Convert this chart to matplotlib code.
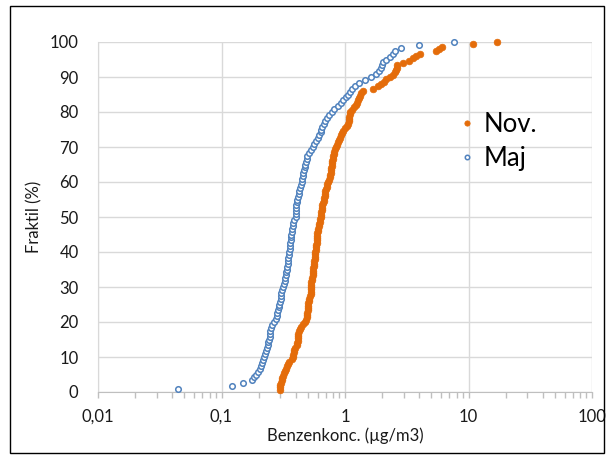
import numpy as np
import matplotlib
matplotlib.use("Agg")
import matplotlib.pyplot as plt
from matplotlib.ticker import LogLocator, FixedLocator, NullFormatter
from matplotlib.patches import Rectangle

plt.rcParams["font.family"] = ["Lato", "DejaVu Sans"]

# sorted benzene concentrations (ug/m3)
nov_conc = [
    0.296, 0.298, 0.300, 0.303, 0.307, 0.310, 0.314, 0.318, 0.325, 0.333,
    0.340, 0.345, 0.355, 0.370, 0.380, 0.380, 0.385, 0.390, 0.395, 0.405,
    0.410, 0.415, 0.415, 0.420, 0.420, 0.425, 0.435, 0.440, 0.455, 0.470,
    0.480, 0.490, 0.490, 0.495, 0.500, 0.500, 0.500, 0.505, 0.510, 0.510,
    0.520, 0.530, 0.530, 0.530, 0.530, 0.530, 0.535, 0.540, 0.545, 0.550,
    0.550, 0.550, 0.555, 0.560, 0.560, 0.565, 0.570, 0.570, 0.570, 0.575,
    0.580, 0.580, 0.585, 0.590, 0.590, 0.590, 0.590, 0.595, 0.600, 0.610,
    0.615, 0.620, 0.625, 0.630, 0.635, 0.640, 0.645, 0.650, 0.650, 0.655,
    0.660, 0.670, 0.680, 0.690, 0.690, 0.690, 0.700, 0.710, 0.720, 0.730,
    0.740, 0.750, 0.760, 0.765, 0.770, 0.775, 0.780, 0.785, 0.790, 0.795,
    0.800, 0.810, 0.820, 0.830, 0.840, 0.855, 0.870, 0.890, 0.910, 0.930,
    0.945, 0.970, 1.000, 1.030, 1.060, 1.070, 1.080, 1.080, 1.090, 1.090,
    1.140, 1.190, 1.220, 1.250, 1.270, 1.290, 1.320, 1.360, 1.400, 1.680,
    1.840, 1.950, 2.050, 2.150, 2.300, 2.450, 2.550, 2.600, 2.620, 2.650,
    2.950, 3.300, 3.550, 3.750, 4.050, 5.500, 5.800, 6.100, 10.9, 16.9,
]
maj_conc = [
    0.0445, 0.121, 0.150, 0.177, 0.184, 0.192, 0.199, 0.205, 0.209, 0.213,
    0.216, 0.220, 0.225, 0.229, 0.234, 0.237, 0.240, 0.244, 0.247, 0.247,
    0.249, 0.252, 0.255, 0.268, 0.275, 0.280, 0.284, 0.287, 0.290, 0.293,
    0.298, 0.303, 0.303, 0.305, 0.309, 0.315, 0.321, 0.324, 0.327, 0.330,
    0.334, 0.338, 0.341, 0.343, 0.345, 0.347, 0.350, 0.354, 0.357, 0.359,
    0.361, 0.363, 0.366, 0.368, 0.371, 0.374, 0.377, 0.381, 0.390, 0.398,
    0.400, 0.400, 0.400, 0.403, 0.407, 0.411, 0.417, 0.423, 0.428, 0.434,
    0.440, 0.446, 0.451, 0.455, 0.460, 0.465, 0.470, 0.476, 0.482, 0.488,
    0.495, 0.510, 0.530, 0.550, 0.565, 0.585, 0.600, 0.620, 0.635, 0.645,
    0.655, 0.670, 0.690, 0.715, 0.745, 0.780, 0.820, 0.880, 0.930, 0.970,
    1.010, 1.060, 1.100, 1.150, 1.210, 1.290, 1.460, 1.620, 1.780, 1.900,
    1.950, 2.000, 2.040, 2.150, 2.300, 2.450, 2.560, 2.850, 4.000, 7.600,
]

x_ticks = [0.01, 0.1, 1, 10, 100]
x_ticklabels = ["0,01", "0,1", "1", "10", "100"]
y_ticks = list(range(0, 101, 10))


def fraktil(values):
    # empirical cumulative percentile of each sorted value
    n = len(values)
    return 100.0 * np.arange(1, n + 1) / n


ORANGE = "#E46C0A"
BLUE = "#4F81BD"
GRID = "#D9D9D9"

fig = plt.figure(figsize=(6.09, 4.59), dpi=100)
ax = fig.add_axes([98 / 609, 1 - 392 / 459, 494 / 609, 350 / 459])

ax.plot(nov_conc, fraktil(nov_conc), ls="none", marker="o", ms=4.8,
        mfc=ORANGE, mec=ORANGE, mew=0.5, label="Nov.", zorder=3, clip_on=False)
ax.plot(maj_conc, fraktil(maj_conc), ls="none", marker="o", ms=4.0,
        mfc="white", mec=BLUE, mew=1.1, label="Maj", zorder=3, clip_on=False)

ax.set_xscale("log")
ax.set_xlim(0.01, 100)
ax.set_ylim(0, 100)
ax.xaxis.set_major_locator(FixedLocator(x_ticks))
ax.set_xticklabels(x_ticklabels)
ax.xaxis.set_minor_locator(LogLocator(base=10, subs=np.arange(2, 10)))
ax.xaxis.set_minor_formatter(NullFormatter())
ax.set_yticks(y_ticks)

ax.grid(True, which="major", color=GRID, lw=1.0, zorder=0)
ax.set_axisbelow(True)
for s in ["top", "right"]:
    ax.spines[s].set_visible(False)
ax.spines["left"].set_color(GRID)
ax.spines["bottom"].set_color("#BFBFBF")
ax.tick_params(axis="x", which="both", direction="out", color="#BFBFBF",
               length=4, width=1, labelsize=12, pad=8, labelcolor="#1a1a1a")
ax.tick_params(axis="y", length=0, labelsize=12, pad=14, labelcolor="#1a1a1a")

ax.set_xlabel("Benzenkonc. (µg/m3)", fontsize=12, labelpad=2, color="#1a1a1a")
ax.set_ylabel("Fraktil (%)", fontsize=12, labelpad=5, color="#1a1a1a")

leg = ax.legend(loc="upper left", bbox_to_anchor=(0.70, 0.83), frameon=False,
                fontsize=18.5, handletextpad=0.15, labelspacing=0.35,
                handlelength=1.0, markerscale=0.8, borderaxespad=0)

fig.patches.append(Rectangle((10 / 609, 1 - 453 / 459), 594 / 609, 447 / 459,
                             transform=fig.transFigure, fill=False,
                             edgecolor="black", lw=1.0))

fig.savefig("out.png", dpi=100)
